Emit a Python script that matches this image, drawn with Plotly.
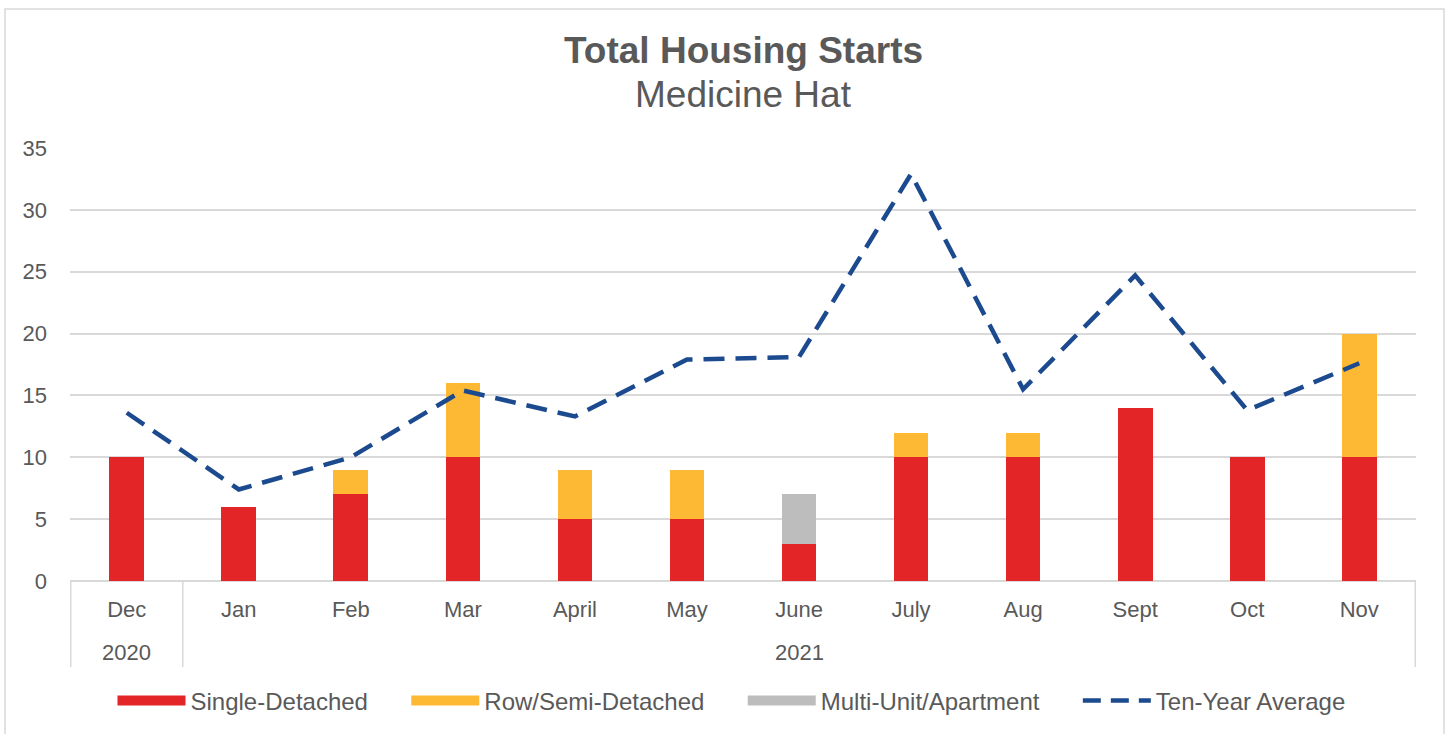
import plotly.graph_objects as go

months = ["Dec", "Jan", "Feb", "Mar", "April", "May", "June", "July", "Aug", "Sept", "Oct", "Nov"]
years = ["2020", "2021"]
single_detached = [10, 6, 7, 10, 5, 5, 3, 10, 10, 14, 10, 10]
row_semi = [0, 0, 2, 6, 4, 4, 0, 2, 2, 0, 0, 10]
multi_unit = [0, 0, 0, 0, 0, 0, 4, 0, 0, 0, 0, 0]
ten_year_avg = [13.6, 7.4, 10.0, 15.4, 13.3, 17.9, 18.1, 32.9, 15.5, 24.7, 13.8, 17.6]

RED = "#E32527"
ORANGE = "#FDB933"
GRAY = "#BDBDBD"
BLUE = "#1C4A8F"
TXT = "#595959"
GRID = "#D9D9D9"
FONT = "Liberation Sans, Arial, sans-serif"

W, H = 1449, 734
L, R, T, B = 70, 33, 148, 153
pw, ph = W - L - R, H - T - B

def px_x(p):
    return (p - L) / pw

def px_y(p):
    return (H - B - p) / ph

fig = go.Figure()
bar_names = ["Single-Detached", "Row/Semi-Detached", "Multi-Unit/Apartment"]
bar_vals = [single_detached, row_semi, multi_unit]
bar_cols = [RED, ORANGE, GRAY]
for n, v, c in zip(bar_names, bar_vals, bar_cols):
    fig.add_trace(go.Bar(x=months, y=v, name=n, marker=dict(color=c, line=dict(width=0)),
                         showlegend=False))
fig.add_trace(go.Scatter(x=months, y=ten_year_avg, mode="lines", name="Ten-Year Average",
                         line=dict(color=BLUE, width=4.5, dash="21px,11px"), showlegend=False))

# legend entries (padding keeps the wider spacing of the original legend)
PAD = "\u00a0" * 5
for n, c in zip(bar_names, bar_cols):
    fig.add_trace(go.Scatter(x=[None], y=[None], mode="lines", name=n + PAD,
                             line=dict(color=c, width=13)))
fig.add_trace(go.Scatter(x=[None], y=[None], mode="lines", name="Ten-Year Average",
                         line=dict(color=BLUE, width=4.5, dash="18px,10px")))

shapes = []
# category dividers
for xv in [-0.5, 0.5, 11.5]:
    shapes.append(dict(type="line", xref="x", yref="paper", x0=xv, x1=xv,
                       y0=0, y1=px_y(667), line=dict(color=GRID, width=1.5)))
# outer border
shapes.append(dict(type="rect", xref="paper", yref="paper",
                   x0=px_x(5), x1=px_x(1444), y0=px_y(745), y1=px_y(9),
                   line=dict(color=GRID, width=1.5), layer="below"))

annotations = [
    dict(x=0, y=px_y(652), xref="x", yref="paper", text=years[0], showarrow=False,
         yanchor="middle", font=dict(size=22, color=TXT)),
    dict(x=6, y=px_y(652), xref="x", yref="paper", text=years[1], showarrow=False,
         yanchor="middle", font=dict(size=22, color=TXT)),
    dict(x=0.5, y=px_y(51), xref="paper", yref="paper", text="<b>Total Housing Starts</b>",
         showarrow=False, yanchor="middle", font=dict(size=37, color=TXT)),
    dict(x=0.5, y=px_y(94), xref="paper", yref="paper", text="Medicine Hat",
         showarrow=False, yanchor="middle", font=dict(size=37, color=TXT)),
]

fig.update_layout(
    width=W, height=H,
    margin=dict(l=L, r=R, t=T, b=B, autoexpand=False),
    barmode="stack", bargap=0.69,
    plot_bgcolor="white", paper_bgcolor="white",
    font=dict(family=FONT, color=TXT, size=22),
    xaxis=dict(type="category", categoryorder="array", categoryarray=months,
               showgrid=False, showline=False, ticks="", ticklabelstandoff=13,
               tickfont=dict(size=22, color=TXT)),
    yaxis=dict(range=[0, 35], dtick=5, showgrid=True, gridcolor=GRID, gridwidth=1.5,
               zeroline=True, zerolinecolor=GRID, zerolinewidth=1.5, showline=False,
               ticks="", ticklabelstandoff=22, tickfont=dict(size=22, color=TXT)),
    legend=dict(orientation="h", x=px_x(731.5), xanchor="center", y=px_y(701), yanchor="middle",
                traceorder="normal", font=dict(size=24, color=TXT), itemwidth=68,
                tracegroupgap=0),
    shapes=shapes, annotations=annotations,
)

fig.write_html("out.html")
